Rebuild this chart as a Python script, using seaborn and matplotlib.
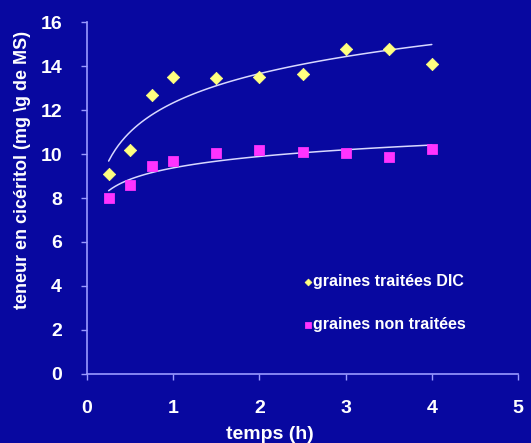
import numpy as np
import pandas as pd
import matplotlib
matplotlib.use("Agg")
import matplotlib.pyplot as plt
import seaborn as sns

temps = [0.25, 0.5, 0.75, 1, 1.5, 2, 2.5, 3, 3.5, 4]
dic = [9.1, 10.2, 12.7, 13.5, 13.45, 13.5, 13.65, 14.8, 14.8, 14.1]
non_traitees = [8.0, 8.6, 9.45, 9.7, 10.05, 10.2, 10.1, 10.05, 9.85, 10.25]

bg = "#0808a0"
axis_col = "#9a9aff"

sns.set_style("white")
plt.rcParams["font.family"] = ["Liberation Sans", "DejaVu Sans"]
plt.rcParams["font.weight"] = "bold"

fig = plt.figure(figsize=(5.31, 4.43), dpi=100, facecolor=bg)
ax = fig.add_axes([0.164, 0.156, 0.8115, 0.794])
ax.set_facecolor(bg)

df = pd.DataFrame({"temps": temps, "dic": dic, "non": non_traitees})

# courbes de tendance logarithmiques
sns.regplot(data=df, x="temps", y="dic", logx=True, scatter=False, ci=None,
            ax=ax, line_kws={"color": "#d8d8ff", "lw": 1.1})
sns.regplot(data=df, x="temps", y="non", logx=True, scatter=False, ci=None,
            ax=ax, line_kws={"color": "#d8d8ff", "lw": 1.1})

sns.scatterplot(data=df, x="temps", y="dic", marker="D", s=40, color="#ffff80",
                edgecolor="#ffff80", label="graines traitées DIC", ax=ax, zorder=3)
sns.scatterplot(data=df, x="temps", y="non", marker="s", s=50, color="#ff33ff",
                edgecolor="#ff33ff", label="graines non traitées", ax=ax, zorder=3)

ax.set_xlim(0, 5)
ax.set_ylim(0, 16)
ax.set_xticks(range(0, 6))
ax.set_yticks(range(0, 17, 2))

for s in ["top", "right"]:
    ax.spines[s].set_visible(False)
for s in ["left", "bottom"]:
    ax.spines[s].set_color(axis_col)
    ax.spines[s].set_linewidth(1.2)

ax.tick_params(axis="both", colors=axis_col, length=4, width=1, direction="out",
               labelcolor="white", labelsize=14, left=True, bottom=True)
for lab in ax.get_xticklabels() + ax.get_yticklabels():
    lab.set_fontweight("bold")
ax.tick_params(axis="x", pad=15)
ax.tick_params(axis="y", pad=14)

ax.set_xlabel("temps (h)", color="white", fontsize=14, fontweight="bold")
ax.xaxis.set_label_coords(0.425, -0.148)
ax.set_ylabel("teneur en cicéritol (mg \\g de MS)", color="white", fontsize=13,
              fontweight="bold")
ax.yaxis.set_label_coords(-0.13, 0.58)

leg = ax.legend(loc="upper left", bbox_to_anchor=(0.47, 0.325), frameon=False,
                fontsize=11.5, labelspacing=1.75, handletextpad=0.05, handlelength=0.5,
                markerscale=0.55)
for t in leg.get_texts():
    t.set_color("white")
    t.set_fontweight("bold")

fig.savefig("out.png", dpi=100, facecolor=bg)
